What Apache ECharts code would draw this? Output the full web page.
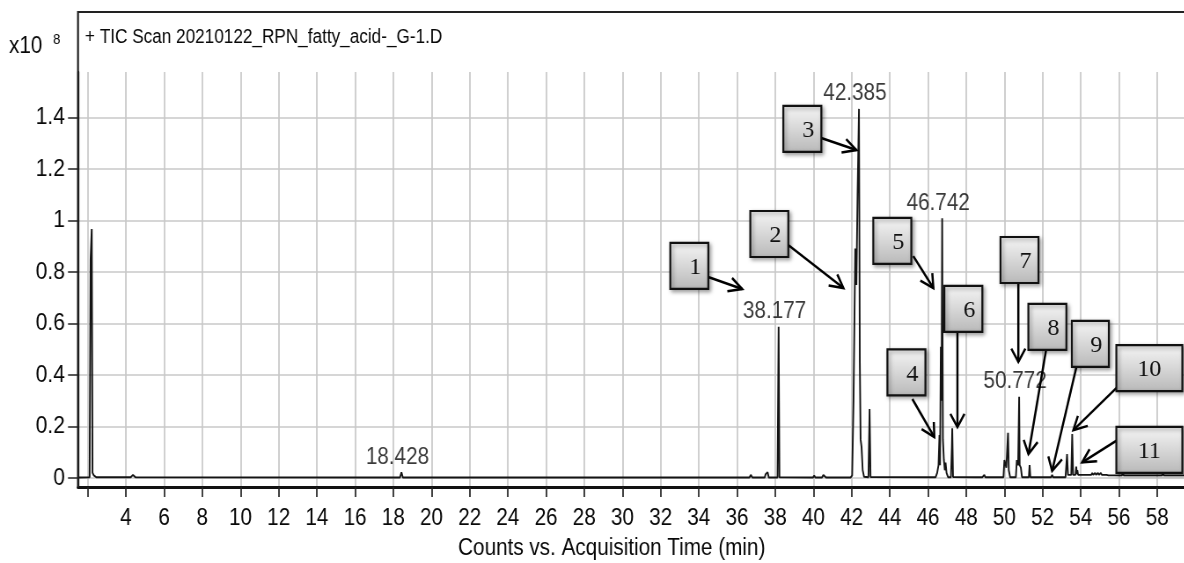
<!DOCTYPE html>
<html>
<head>
<meta charset="utf-8">
<script src="https://cdn.jsdelivr.net/npm/echarts@6/dist/echarts.min.js"></script>
<style>
html,body{margin:0;padding:0;background:#fff;overflow:hidden;}
#wrap{width:1184px;height:563px;overflow:hidden;position:relative;}
#c{width:1346px;height:563px;transform:scaleX(0.88);transform-origin:0 0;}
</style>
</head>
<body>
<div id="wrap"><div id="c"></div></div>
<script>
// ---------- text ----------
const titleText = '+ TIC Scan 20210122_RPN_fatty_acid-_G-1.D';
const xAxisTitle = 'Counts vs. Acquisition Time (min)';
const yScaleText = 'x10';
const yScaleExp = '8';

// ---------- ticks ----------
const xTickValues = [2,4,6,8,10,12,14,16,18,20,22,24,26,28,30,32,34,36,38,40,42,44,46,48,50,52,54,56,58];
const xTickLabels = [4,6,8,10,12,14,16,18,20,22,24,26,28,30,32,34,36,38,40,42,44,46,48,50,52,54,56,58];
const yTickValues = [0,0.2,0.4,0.6,0.8,1,1.2,1.4];

// ---------- trace (acquisition time, counts x10^8) ----------
const times = [
  1.55, 2.10, 2.15, 2.21, 2.25, 2.32, 2.45,
  4.25, 4.37, 4.5,
  18.35, 18.428, 18.5,
  20.8, 20.87, 20.95,
  32.95, 33.0, 33.05,
  36.65, 36.72, 36.8,
  37.45, 37.5, 37.55, 37.6, 37.66,
  38.12, 38.177, 38.22,
  39.98, 40.04, 40.1,
  40.45, 40.52, 40.6, 40.66,
  41.95, 42.03, 42.1, 42.19, 42.25, 42.31, 42.385, 42.43, 42.47, 42.52, 42.58, 42.65,
  42.88, 42.94, 42.99,
  46.4, 46.48, 46.55, 46.6, 46.63, 46.67, 46.71, 46.742, 46.78, 46.83, 46.88, 46.92, 46.97, 47.05,
  47.2, 47.25, 47.27, 47.31,
  48.5, 48.55, 48.6, 48.75, 48.8, 48.85, 48.92, 48.95, 49.0, 49.1, 49.15, 49.2,
  49.95, 50.0, 50.1, 50.19, 50.23, 50.3,
  50.6, 50.65, 50.72, 50.772, 50.8, 50.86, 50.92,
  51.28, 51.32, 51.36,
  52.45, 52.5, 52.55, 52.8, 52.84, 52.88,
  53.2, 53.28, 53.33, 53.5, 53.55, 53.6, 53.72, 53.76, 53.79, 53.82, 53.86,
  54.55, 54.6, 54.65, 54.75, 54.8, 54.9, 54.95, 55.05, 55.1,
  55.35, 55.4, 55.45,
  56.15, 56.2, 56.25,
  58.25, 58.3, 58.35, 59.43
];
const counts = [
  0.002, 0.003, 0.85, 0.967, 0.02, 0.01, 0.003,
  0.003, 0.012, 0.003,
  0.002, 0.022, 0.002,
  0.002, 0.008, 0.002,
  0.002, 0.007, 0.002,
  0.002, 0.012, 0.002,
  0.002, 0.015, 0.01, 0.022, 0.002,
  0.002, 0.588, 0.003,
  0.002, 0.01, 0.002,
  0.002, 0.012, 0.012, 0.002,
  0.002, 0.01, 0.3, 0.892, 0.75, 1.1, 1.434, 0.45, 0.15, 0.12, 0.03, 0.005,
  0.003, 0.268, 0.004,
  0.003, 0.02, 0.05, 0.167, 0.05, 0.51, 0.3, 1.009, 0.15, 0.07, 0.03, 0.06, 0.02, 0.003,
  0.003, 0.12, 0.193, 0.004,
  0.003, 0.008, 0.003, 0.003, 0.01, 0.003, 0.003, 0.012, 0.003, 0.003, 0.008, 0.003,
  0.003, 0.07, 0.04, 0.176, 0.03, 0.003,
  0.003, 0.07, 0.05, 0.316, 0.05, 0.04, 0.003,
  0.003, 0.05, 0.003,
  0.003, 0.012, 0.003, 0.003, 0.01, 0.003,
  0.003, 0.093, 0.012, 0.012, 0.171, 0.012, 0.012, 0.044, 0.015, 0.03, 0.012,
  0.012, 0.02, 0.012, 0.02, 0.012, 0.02, 0.012, 0.02, 0.012,
  0.012, 0.018, 0.01,
  0.01, 0.02, 0.01,
  0.01, 0.02, 0.01, 0.01
];
const labeledPeaks = [18.428, 38.177, 42.385, 46.742, 50.772];

// ---------- numbered callouts ----------
const calloutLabels = ['1','2','3','4','5','6','7','8','9','10','11'];

// callout layout (data coordinates: [time, counts]); box sizes in screen px
const calloutLayout = {
  box:   [[33.50,0.824],[37.69,0.948],[39.42,1.356],[44.87,0.410],[44.13,0.921],[47.85,0.657],
          [50.79,0.847],[52.25,0.587],[54.50,0.521],[57.59,0.427],[57.59,0.109]],
  size:  [[38,46],[38,46],[38,46],[38,46],[38,46],[38,46],[38,46],[38,46],[37,46],[66,46],[66,46]],
  tail:  [[34.49,0.781],[38.68,0.905],[40.41,1.321],[45.18,0.307],[45.23,0.862],[47.54,0.567],
          [50.73,0.758],[52.18,0.497],[53.77,0.431],[55.87,0.350],[55.87,0.145]],
  tip:   [[36.27,0.734],[41.57,0.738],[42.25,1.274],[46.33,0.159],[46.28,0.738],[47.54,0.198],
          [50.73,0.451],[51.26,0.093],[52.50,0.028],[53.61,0.186],[54.07,0.061]]
};

// The instrument software draws condensed Arial; the canvas is squeezed horizontally by SX.
const SX = 0.88;
const SANS = "'Liberation Sans', Arial, sans-serif";
const SERIF = "'Liberation Serif','Times New Roman',serif";
const INK = '#080808';
const px = x => x / SX; // screen x -> canvas x

const trace = times.map((t, i) => [t, counts[i]]);
const peakPoints = labeledPeaks.map(p => {
  const i = times.indexOf(p);
  return [times[i], counts[i]];
});

const chart = echarts.init(document.getElementById('c'), null, {renderer: 'canvas'});

const option = {
  animation: false,
  backgroundColor: '#ffffff',
  grid: {left: px(78), right: 0, top: 72, bottom: 76, containLabel: false, outerBoundsMode: 'none'},
  xAxis: {
    type: 'value', min: 1.492, max: 59.43,
    axisLine: {show: true, onZero: false, lineStyle: {color: '#111', width: 3}},
    axisTick: {show: true, length: 10, customValues: xTickValues, lineStyle: {color: '#222', width: 1.7}},
    axisLabel: {customValues: xTickLabels, margin: 20, fontFamily: SANS, fontSize: 23.5, color: INK,
      formatter: v => String(v)},
    splitLine: {show: true, lineStyle: {color: '#c8c8c8', width: 1.7}},
    name: xAxisTitle, nameLocation: 'middle', nameGap: 50,
    nameTextStyle: {fontFamily: SANS, fontSize: 23.5, color: INK, padding: [0, px(39), 0, 0]}
  },
  yAxis: {
    type: 'value', min: -0.035, max: 1.5773,
    axisLine: {show: true, onZero: false, lineStyle: {color: '#111', width: 2.3}},
    axisTick: {show: true, length: px(10), customValues: yTickValues, lineStyle: {color: '#222', width: 1.5}},
    axisLabel: {customValues: yTickValues, margin: px(13), fontFamily: SANS, fontSize: 24, color: INK,
      formatter: v => String(+v.toFixed(1))},
    splitLine: {show: true, lineStyle: {color: '#c8c8c8', width: 1.5}}
  },
  series: [
    {
      type: 'line', data: trace, showSymbol: false, symbol: 'none', smooth: false,
      lineStyle: {color: '#141414', width: 1.9}, z: 3, silent: true
    },
    {
      type: 'scatter', data: peakPoints, symbolSize: 0, silent: true, z: 4,
      label: {show: true, position: 'top', distance: 3, offset: [px(-4), 0],
        fontFamily: SANS, fontSize: 23.5, color: INK,
        formatter: p => p.value[0].toFixed(3)}
    }
  ]
};
chart.setOption(option);

function buildGraphics() {
  const g = [];
  // frame (left + top border of the plot header)
  g.push({type: 'polyline', z: 10, silent: true,
    shape: {points: [[px(78), 487], [px(78), 12], [px(1184) + 2, 12]]},
    style: {stroke: '#222', lineWidth: 2.2, fill: null}});
  g.push({type: 'text', z: 10, x: px(85), y: 38, silent: true,
    style: {text: titleText, fontFamily: SANS, fontSize: 19.5, fill: INK, verticalAlign: 'middle'}});
  g.push({type: 'text', z: 10, x: px(9), y: 47, silent: true,
    style: {text: yScaleText, fontFamily: SANS, fontSize: 23.5, fill: INK, verticalAlign: 'middle'}});
  g.push({type: 'text', z: 10, x: px(53), y: 40, silent: true,
    style: {text: yScaleExp, fontFamily: SANS, fontSize: 15, fill: INK, verticalAlign: 'middle'}});

  calloutLabels.forEach((lab, i) => {
    const c = chart.convertToPixel({gridIndex: 0}, calloutLayout.box[i]);
    const [w, h] = calloutLayout.size[i];
    const a = chart.convertToPixel({gridIndex: 0}, calloutLayout.tail[i]);
    const b = chart.convertToPixel({gridIndex: 0}, calloutLayout.tip[i]);
    // arrow geometry computed in screen space, then mapped back to canvas space
    const as = [a[0] * SX, a[1]], bs = [b[0] * SX, b[1]];
    const dx = bs[0] - as[0], dy = bs[1] - as[1];
    const L = Math.hypot(dx, dy);
    const ux = dx / L, uy = dy / L;
    const arm = 15, ang = 28 * Math.PI / 180;
    const rot = (x, y, t) => [x * Math.cos(t) - y * Math.sin(t), x * Math.sin(t) + y * Math.cos(t)];
    const r1 = rot(-ux, -uy, ang), r2 = rot(-ux, -uy, -ang);
    const h1 = [px(bs[0] + r1[0] * arm), bs[1] + r1[1] * arm];
    const h2 = [px(bs[0] + r2[0] * arm), bs[1] + r2[1] * arm];
    g.push({type: 'polyline', z: 20, silent: true,
      shape: {points: [a, b]}, style: {stroke: '#000', lineWidth: 2.5, fill: null}});
    g.push({type: 'polyline', z: 20, silent: true,
      shape: {points: [h1, b, h2]},
      style: {stroke: '#000', lineWidth: 2.5, fill: null, lineJoin: 'miter'}});
    // box
    g.push({type: 'rect', z: 30, silent: true,
      shape: {x: c[0] - px(w) / 2, y: c[1] - h / 2, width: px(w), height: h},
      style: {
        fill: new echarts.graphic.LinearGradient(0, 0, 0, 1, [
          {offset: 0, color: '#f6f6f6'}, {offset: 1, color: '#b8b8b8'}]),
        stroke: '#111', lineWidth: 2.2,
        shadowBlur: 4, shadowOffsetX: 2, shadowOffsetY: 2, shadowColor: 'rgba(0,0,0,0.35)'
      }});
    const off = lab.length === 1 ? 6 : 0;
    g.push({type: 'text', z: 31, silent: true, x: c[0] + px(off), y: c[1] + 2, scaleX: 1 / SX,
      style: {text: lab, fontFamily: SERIF, fontSize: 24, fill: '#111', align: 'center', verticalAlign: 'middle'}});
  });
  return g;
}
chart.setOption({graphic: buildGraphics()});
</script>
</body>
</html>
